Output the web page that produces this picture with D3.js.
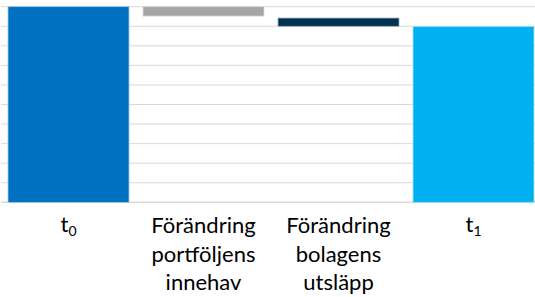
<!DOCTYPE html>
<html>
<head>
<meta charset="utf-8">
<script src="https://cdn.jsdelivr.net/npm/d3@7"></script>
<style>
  body { margin: 0; background: #fff; }
  svg { display: block; }
  text { font-family: Lato, "Open Sans", sans-serif; fill: #000; }
</style>
</head>
<body>
<svg id="chart" width="535" height="297"></svg>
<script>
// categories (main text, subscript) split in lines
let labels = [["t", "0"], ["Förändring", "portföljens", "innehav"], ["Förändring", "bolagens", "utsläpp"], ["t", "1"]];
let keys = ["t0", "portf", "bolag", "t1"];
// waterfall: bottom and top of each bar
let lows  = [0, 95.2, 90.0, 0];
let highs = [100, 100, 94.2, 89.8];
let colors = ["#0070C0", "#A6A6A6", "#00334F", "#00B0F0"];
let strokes = ["#9DC3E6", "#D9D9D9", "#8FAABF", "#9DE0F8"];
let gridTicks = d3.range(0, 101, 10);

let svg = d3.select("#chart");

let x = d3.scaleBand()
          .domain(keys)
          .range([1, 541])
          .paddingInner(0.104)
          .paddingOuter(0.052);

let y = d3.scaleLinear()
          .domain([0, 100])
          .range([202.3, 6.7]);

// gridlines
svg.append("g").selectAll("line")
   .data(gridTicks)
   .join("line")
   .attr("x1", 1)
   .attr("x2", 541)
   .attr("y1", d => y(d))
   .attr("y2", d => y(d))
   .attr("stroke", "#D9D9D9")
   .attr("stroke-width", d => d == 0 ? 1.5 : 1);

// bars
svg.append("g").selectAll("rect")
   .data(keys)
   .join("rect")
   .attr("x", d => x(d))
   .attr("width", x.bandwidth())
   .attr("y", (d, i) => y(highs[i]))
   .attr("height", (d, i) => y(lows[i]) - y(highs[i]))
   .attr("fill", (d, i) => colors[i])
   .attr("stroke", (d, i) => strokes[i])
   .attr("stroke-width", 0.75);

// category labels
let lineH = 28.5;
let labelG = svg.append("g");
keys.forEach((k, i) => {
  let cx = x(k) + x.bandwidth() / 2;
  let lab = labels[i];
  if (k == "t0" || k == "t1") {
    let t = labelG.append("text")
                  .attr("x", cx)
                  .attr("y", 232)
                  .attr("text-anchor", "middle")
                  .style("font-size", "22px");
    t.append("tspan").text(lab[0]);
    t.append("tspan").text(lab[1])
     .attr("dy", 4)
     .style("font-size", "14px");
  } else {
    lab.forEach((s, j) => {
      labelG.append("text")
            .attr("x", cx)
            .attr("y", 233 + j * lineH)
            .attr("text-anchor", "middle")
            .style("font-size", "22px")
            .text(s);
    });
  }
});
</script>
</body>
</html>
